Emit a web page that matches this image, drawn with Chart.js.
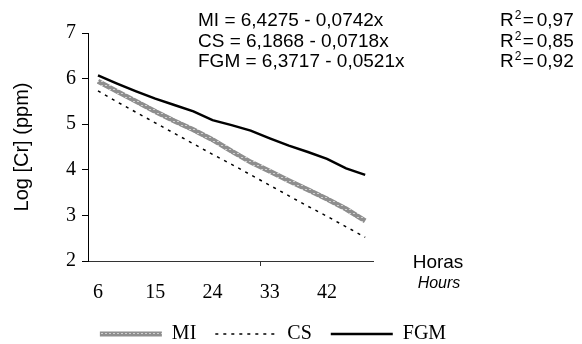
<!DOCTYPE html>
<html>
<head>
<meta charset="utf-8">
<script src="https://cdn.jsdelivr.net/npm/chart.js@4.4.1/dist/chart.umd.min.js"></script>
<style>
  body { margin: 0; background: #fff; }
  #chart { display: block; }
</style>
</head>
<body>
<canvas id="chart" width="582" height="344"></canvas>
<script>
// hours of sampling
const hours = [6, 9, 12, 15, 18, 21, 24, 27, 30, 33, 36, 39, 42, 45, 48];
const miValues  = [5.94, 5.72, 5.50, 5.28, 5.07, 4.88, 4.66, 4.41, 4.17, 3.97, 3.76, 3.56, 3.36, 3.14, 2.88];
const csValues  = [5.73, 5.49, 5.26, 5.03, 4.80, 4.57, 4.34, 4.12, 3.89, 3.66, 3.43, 3.20, 2.98, 2.75, 2.52];
const fgmValues = [6.07, 5.89, 5.72, 5.56, 5.42, 5.28, 5.09, 4.98, 4.86, 4.69, 4.53, 4.39, 4.24, 4.03, 3.89];
const xTicks = [6, 15, 24, 33, 42];
const equations = ["MI = 6,4275 - 0,0742x", "CS = 6,1868 - 0,0718x", "FGM = 6,3717 - 0,0521x"];
const r2Values = ["0,97", "0,85", "0,92"];
const strayTick = 31.5;

const ctx = document.getElementById("chart").getContext("2d");

// grey line with light dots, like the excel pattern
function greyPattern() {
    let c = document.createElement("canvas");
    c.width = 4; c.height = 4;
    let g = c.getContext("2d");
    g.fillStyle = "#8e8e8e";
    g.fillRect(0, 0, 4, 4);
    g.fillStyle = "#cfcfcf";
    g.fillRect(1, 1, 2, 1);
    return ctx.createPattern(c, "repeat");
}

const serif = "'Liberation Serif', 'Times New Roman', serif";
const sans = "'Liberation Sans', Arial, sans-serif";

const textPlugin = {
    id: "texts",
    afterDraw(chart) {
        let c = chart.ctx;
        c.save();
        c.fillStyle = "#000";
        c.textBaseline = "alphabetic";
        c.textAlign = "left";
        equations.forEach(function(eq, i) {
            let base = 26 + i * 20.5;
            c.font = "19px " + sans;
            c.fillText(eq, 198, base);
            c.fillText("R", 500, base);
            let w = c.measureText("R").width;
            c.font = "12px " + sans;
            c.fillText("2", 500 + w + 1, base - 7);
            c.font = "19px " + sans;
            c.fillText("=", 500 + w + 9, base);
            c.fillText(r2Values[i], 500 + w + 23, base);
        });
        c.textAlign = "center";
        c.font = "19px " + sans;
        c.fillText("Horas", 438, 268);
        c.font = "italic 16px " + sans;
        c.fillText("Hours", 439, 288);

        let xs = chart.scales.x;
        let px = Math.round(xs.getPixelForValue(strayTick)) + 0.5;
        c.strokeStyle = "#333";
        c.lineWidth = 1;
        c.beginPath();
        c.moveTo(px, xs.top);
        c.lineTo(px, xs.top + 5);
        c.stroke();
        c.restore();
    }
};

new Chart(ctx, {
    type: "line",
    data: {
        labels: hours,
        datasets: [
            {
                label: "MI",
                data: hours.map((h, i) => ({x: h, y: miValues[i]})),
                borderColor: greyPattern(),
                borderWidth: 5,
                pointRadius: 0,
                tension: 0
            },
            {
                label: "CS",
                data: hours.map((h, i) => ({x: h, y: csValues[i]})),
                borderColor: "#000",
                borderWidth: 1.5,
                borderDash: [3, 5],
                pointRadius: 0,
                tension: 0
            },
            {
                label: "FGM",
                data: hours.map((h, i) => ({x: h, y: fgmValues[i]})),
                borderColor: "#000",
                borderWidth: 2.5,
                pointRadius: 0,
                tension: 0
            }
        ]
    },
    options: {
        responsive: false,
        animation: false,
        devicePixelRatio: 1,
        layout: {
            padding: {top: 33, left: 0, right: 36, bottom: -10}
        },
        plugins: {
            tooltip: {enabled: false},
            legend: {
                position: "bottom",
                labels: {
                    usePointStyle: true,
                    pointStyle: "line",
                    pointStyleWidth: 62,
                    padding: 19,
                    color: "#000",
                    font: {family: serif, size: 20},
                    generateLabels: function(chart) {
                        let items = Chart.defaults.plugins.legend.labels.generateLabels(chart);
                        items.forEach(function(item) {
                            let ds = chart.data.datasets[item.datasetIndex];
                            item.lineDash = ds.borderDash || [];
                            item.lineWidth = ds.borderWidth;
                        });
                        return items;
                    }
                }
            }
        },
        scales: {
            x: {
                type: "linear",
                min: 4.43,
                max: 49.23,
                afterBuildTicks: function(scale) {
                    scale.ticks = xTicks.map(v => ({value: v}));
                },
                afterFit: function(scale) { scale.height = 44; },
                grid: {display: true, drawOnChartArea: false, drawTicks: false},
                border: {display: true, color: "#333", width: 1},
                ticks: {
                    padding: 20,
                    color: "#000",
                    maxRotation: 0,
                    font: {family: serif, size: 20}
                }
            },
            y: {
                min: 2,
                max: 7,
                afterFit: function(scale) { scale.width = 88; },
                ticks: {
                    stepSize: 1,
                    padding: 6,
                    color: "#000",
                    font: {family: serif, size: 20}
                },
                grid: {display: true, drawOnChartArea: false, drawTicks: true, tickLength: 6, color: "#000"},
                border: {display: true, color: "#000", width: 1},
                title: {
                    display: true,
                    text: "Log [Cr] (ppm)",
                    color: "#000",
                    padding: {top: 10, bottom: 0},
                    font: {family: sans, size: 20}
                }
            },
            yR: {
                position: "right",
                display: true,
                afterFit: function(scale) { scale.width = 173; },
                grid: {display: false},
                border: {display: false},
                ticks: {display: false}
            }
        }
    },
    plugins: [textPlugin]
});
</script>
</body>
</html>
